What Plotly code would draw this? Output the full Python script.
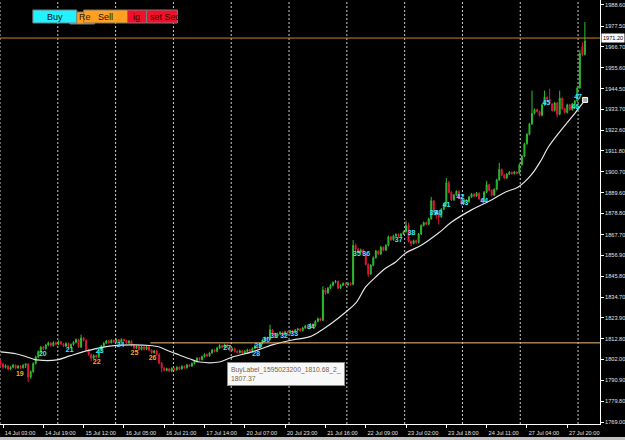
import plotly.graph_objects as go

# ---------------- data (H1 bars, XAUUSD-like) ----------------
opens = [
    1801.0, 1799.5, 1797.8, 1798.6, 1796.9, 1797.8, 1798.9, 1797.5, 1798.4, 1797.6,
    1798.8, 1799.5, 1792.6, 1795.5, 1799.8, 1803.2, 1806.0, 1808.4, 1807.6, 1809.5,
    1810.6, 1809.2, 1810.8, 1809.9, 1811.3, 1810.2, 1809.0, 1810.4, 1808.6, 1809.8,
    1811.0, 1812.4, 1808.5, 1813.2, 1812.0, 1807.0, 1804.5, 1802.6, 1804.0, 1803.2,
    1806.8, 1809.0, 1810.5, 1811.6, 1810.8, 1812.0, 1811.2, 1812.3, 1811.0, 1812.5,
    1811.8, 1810.6, 1811.6, 1809.4, 1808.0, 1808.8, 1807.2, 1808.5, 1807.3, 1808.6,
    1806.8, 1805.5, 1806.4, 1804.6, 1800.0, 1797.4, 1796.2, 1797.0, 1795.8, 1797.2,
    1796.5, 1797.8, 1797.0, 1798.3, 1797.6, 1799.0, 1798.5, 1799.8, 1801.0, 1802.6,
    1801.9, 1803.4, 1804.6, 1803.8, 1805.4, 1806.9, 1806.2, 1808.0, 1809.2, 1808.4,
    1809.6, 1808.0, 1806.8, 1807.6, 1806.2, 1805.6, 1806.5, 1805.3, 1806.2, 1807.0,
    1806.4, 1807.8, 1809.0, 1808.2, 1810.4, 1812.0, 1813.4, 1812.6, 1817.5, 1815.6,
    1814.2, 1815.4, 1816.2, 1815.0, 1816.5, 1815.8, 1817.0, 1816.2, 1817.4, 1818.0,
    1817.2, 1818.5, 1819.6, 1818.8, 1820.5, 1819.6, 1822.0, 1823.4, 1822.6, 1838.5,
    1837.0, 1839.5, 1841.0, 1842.5, 1843.0, 1839.5, 1841.0, 1842.0, 1841.2, 1842.0,
    1841.5, 1862.0, 1860.0, 1858.5, 1859.5, 1857.5, 1852.0, 1847.0, 1851.5, 1855.5,
    1859.0, 1857.5, 1861.0, 1859.5, 1862.0, 1866.5, 1865.0, 1867.0, 1867.8, 1866.8,
    1868.0, 1869.2, 1872.5, 1864.2, 1863.0, 1864.5, 1863.5, 1868.0, 1872.5, 1874.0,
    1873.2, 1876.0, 1885.5, 1880.0, 1878.0, 1877.0, 1881.0, 1884.0, 1895.0, 1890.0,
    1886.0, 1888.5, 1890.5, 1887.0, 1884.5, 1886.0, 1885.0, 1887.5, 1889.0, 1888.0,
    1889.5, 1886.5, 1885.5, 1890.0, 1894.0, 1891.0, 1888.5, 1891.5, 1896.5, 1902.0,
    1899.0, 1897.5, 1899.5, 1900.5, 1899.8, 1900.6, 1900.0, 1904.5, 1909.0, 1915.5,
    1920.5, 1926.0, 1931.5, 1933.5, 1932.5, 1930.5, 1936.0, 1940.0, 1939.0, 1936.5,
    1933.0, 1937.0, 1931.0, 1939.5, 1934.0, 1932.0, 1936.0, 1933.5, 1936.5, 1938.0,
    1945.0, 1966.5, 1962.5,
]
highs = [
    1802.2, 1800.3, 1799.4, 1799.0, 1798.5, 1799.6, 1799.3, 1799.0, 1798.9, 1799.5,
    1800.0, 1800.2, 1796.2, 1800.4, 1803.9, 1806.7, 1809.0, 1809.1, 1810.2, 1811.4,
    1811.0, 1811.6, 1811.3, 1812.0, 1811.8, 1810.7, 1811.0, 1810.9, 1810.4, 1811.6,
    1813.0, 1812.9, 1815.0, 1813.8, 1812.5, 1807.6, 1805.1, 1804.6, 1804.5, 1807.4,
    1809.6, 1811.1, 1812.2, 1812.1, 1812.6, 1812.5, 1812.9, 1812.8, 1813.1, 1813.0,
    1812.3, 1812.2, 1812.1, 1809.9, 1809.4, 1809.3, 1809.1, 1809.0, 1809.2, 1809.1,
    1807.3, 1807.0, 1806.9, 1805.2, 1800.6, 1798.0, 1797.6, 1797.5, 1797.8, 1797.7,
    1798.4, 1798.3, 1798.9, 1798.8, 1799.6, 1799.5, 1800.4, 1801.6, 1803.2, 1803.1,
    1804.0, 1805.2, 1805.1, 1806.0, 1807.5, 1807.4, 1808.6, 1810.0, 1809.7, 1810.2,
    1810.1, 1808.5, 1808.2, 1808.1, 1806.8, 1807.1, 1807.0, 1806.8, 1807.6, 1807.5,
    1808.4, 1809.6, 1809.5, 1811.0, 1812.6, 1814.0, 1813.9, 1820.2, 1818.0, 1816.1,
    1816.0, 1816.8, 1816.7, 1817.1, 1817.0, 1817.6, 1817.5, 1818.0, 1818.6, 1818.5,
    1819.1, 1820.2, 1820.1, 1821.1, 1821.0, 1822.6, 1824.0, 1823.9, 1840.5, 1839.6,
    1840.1, 1841.6, 1843.1, 1843.8, 1843.6, 1841.6, 1842.6, 1842.5, 1842.6, 1842.5,
    1864.8, 1863.0, 1860.6, 1860.3, 1860.0, 1858.1, 1852.6, 1852.1, 1856.2, 1859.7,
    1859.5, 1861.7, 1861.5, 1862.6, 1867.2, 1867.0, 1867.6, 1868.4, 1868.3, 1868.6,
    1869.8, 1875.0, 1874.0, 1864.7, 1865.1, 1865.0, 1868.6, 1873.1, 1874.6, 1874.5,
    1876.6, 1887.5, 1886.0, 1880.5, 1878.5, 1881.6, 1884.6, 1897.5, 1896.0, 1890.5,
    1889.1, 1891.1, 1891.0, 1887.5, 1886.6, 1886.5, 1888.1, 1889.6, 1889.5, 1890.1,
    1890.0, 1887.0, 1890.6, 1896.0, 1894.5, 1891.5, 1892.1, 1897.1, 1905.5, 1902.5,
    1899.5, 1900.1, 1901.1, 1901.0, 1901.2, 1901.1, 1905.1, 1909.6, 1916.1, 1921.1,
    1926.6, 1943.5, 1934.1, 1934.0, 1933.0, 1936.6, 1943.5, 1940.5, 1944.5, 1937.0,
    1937.6, 1937.5, 1943.5, 1940.0, 1934.5, 1936.6, 1936.5, 1937.1, 1938.6, 1946.0,
    1965.0, 1969.0, 1979.6,
]
lows = [
    1798.6, 1797.0, 1797.2, 1796.2, 1796.3, 1797.3, 1796.8, 1797.0, 1796.9, 1797.1,
    1797.4, 1790.0, 1791.8, 1794.9, 1799.2, 1802.6, 1805.4, 1806.9, 1807.0, 1808.9,
    1808.6, 1808.7, 1809.3, 1809.4, 1809.6, 1808.4, 1808.5, 1807.9, 1808.0, 1809.2,
    1810.4, 1808.0, 1808.0, 1811.4, 1806.4, 1803.9, 1801.0, 1802.0, 1802.5, 1802.7,
    1806.2, 1808.4, 1810.0, 1810.2, 1810.3, 1810.6, 1810.7, 1810.4, 1810.5, 1811.2,
    1810.0, 1810.1, 1808.8, 1807.4, 1807.5, 1806.6, 1806.7, 1806.7, 1806.8, 1806.2,
    1804.9, 1805.0, 1804.0, 1799.4, 1795.2, 1795.6, 1795.7, 1795.2, 1795.3, 1795.9,
    1796.0, 1796.4, 1796.5, 1797.0, 1797.1, 1797.9, 1798.0, 1799.3, 1800.5, 1801.3,
    1801.4, 1802.9, 1803.2, 1803.3, 1804.9, 1805.6, 1805.7, 1807.5, 1807.8, 1807.9,
    1807.4, 1806.2, 1806.3, 1805.6, 1805.0, 1805.1, 1804.7, 1804.8, 1805.7, 1805.8,
    1805.9, 1807.3, 1807.6, 1807.7, 1809.9, 1811.5, 1812.0, 1812.1, 1815.0, 1813.6,
    1813.7, 1814.9, 1814.4, 1814.5, 1815.2, 1815.3, 1815.6, 1815.7, 1816.9, 1816.6,
    1816.7, 1818.0, 1818.2, 1818.3, 1819.0, 1819.1, 1821.5, 1822.0, 1822.1, 1836.0,
    1836.5, 1839.0, 1840.5, 1842.0, 1838.9, 1839.0, 1840.5, 1840.6, 1840.7, 1840.9,
    1841.0, 1859.0, 1857.9, 1858.0, 1856.9, 1851.4, 1845.4, 1846.5, 1851.0, 1855.0,
    1856.9, 1857.0, 1858.9, 1859.0, 1861.5, 1864.4, 1864.5, 1866.3, 1866.2, 1866.3,
    1867.5, 1868.7, 1863.6, 1861.5, 1862.5, 1862.9, 1863.0, 1867.5, 1872.0, 1872.6,
    1872.7, 1875.5, 1879.4, 1876.0, 1873.0, 1876.5, 1880.5, 1883.5, 1889.4, 1885.4,
    1885.5, 1888.0, 1886.4, 1883.0, 1884.0, 1884.4, 1884.5, 1887.0, 1887.4, 1887.5,
    1886.0, 1884.9, 1885.0, 1889.5, 1890.4, 1887.9, 1888.0, 1891.0, 1896.0, 1898.4,
    1896.9, 1897.0, 1899.0, 1899.3, 1899.3, 1899.5, 1899.5, 1904.0, 1908.5, 1915.0,
    1920.0, 1925.5, 1931.0, 1932.0, 1929.9, 1930.0, 1935.5, 1938.4, 1936.0, 1932.4,
    1932.5, 1929.5, 1930.5, 1933.4, 1931.4, 1931.5, 1932.9, 1933.0, 1936.0, 1937.5,
    1944.5, 1961.5, 1962.0,
]
closes = [
    1799.5, 1797.8, 1798.6, 1796.9, 1797.8, 1798.9, 1797.5, 1798.4, 1797.6, 1798.8,
    1799.5, 1792.6, 1795.5, 1799.8, 1803.2, 1806.0, 1808.4, 1807.6, 1809.5, 1810.6,
    1809.2, 1810.8, 1809.9, 1811.3, 1810.2, 1809.0, 1810.4, 1808.6, 1809.8, 1811.0,
    1812.4, 1808.5, 1813.2, 1812.0, 1807.0, 1804.5, 1802.6, 1804.0, 1803.2, 1806.8,
    1809.0, 1810.5, 1811.6, 1810.8, 1812.0, 1811.2, 1812.3, 1811.0, 1812.5, 1811.8,
    1810.6, 1811.6, 1809.4, 1808.0, 1808.8, 1807.2, 1808.5, 1807.3, 1808.6, 1806.8,
    1805.5, 1806.4, 1804.6, 1800.0, 1797.4, 1796.2, 1797.0, 1795.8, 1797.2, 1796.5,
    1797.8, 1797.0, 1798.3, 1797.6, 1799.0, 1798.5, 1799.8, 1801.0, 1802.6, 1801.9,
    1803.4, 1804.6, 1803.8, 1805.4, 1806.9, 1806.2, 1808.0, 1809.2, 1808.4, 1809.6,
    1808.0, 1806.8, 1807.6, 1806.2, 1805.6, 1806.5, 1805.3, 1806.2, 1807.0, 1806.4,
    1807.8, 1809.0, 1808.2, 1810.4, 1812.0, 1813.4, 1812.6, 1817.5, 1815.6, 1814.2,
    1815.4, 1816.2, 1815.0, 1816.5, 1815.8, 1817.0, 1816.2, 1817.4, 1818.0, 1817.2,
    1818.5, 1819.6, 1818.8, 1820.5, 1819.6, 1822.0, 1823.4, 1822.6, 1838.5, 1837.0,
    1839.5, 1841.0, 1842.5, 1843.0, 1839.5, 1841.0, 1842.0, 1841.2, 1842.0, 1841.5,
    1862.0, 1860.0, 1858.5, 1859.5, 1857.5, 1852.0, 1847.0, 1851.5, 1855.5, 1859.0,
    1857.5, 1861.0, 1859.5, 1862.0, 1866.5, 1865.0, 1867.0, 1867.8, 1866.8, 1868.0,
    1869.2, 1872.5, 1864.2, 1863.0, 1864.5, 1863.5, 1868.0, 1872.5, 1874.0, 1873.2,
    1876.0, 1885.5, 1880.0, 1878.0, 1877.0, 1881.0, 1884.0, 1895.0, 1890.0, 1886.0,
    1888.5, 1890.5, 1887.0, 1884.5, 1886.0, 1885.0, 1887.5, 1889.0, 1888.0, 1889.5,
    1886.5, 1885.5, 1890.0, 1894.0, 1891.0, 1888.5, 1891.5, 1896.5, 1902.0, 1899.0,
    1897.5, 1899.5, 1900.5, 1899.8, 1900.6, 1900.0, 1904.5, 1909.0, 1915.5, 1920.5,
    1926.0, 1931.5, 1933.5, 1932.5, 1930.5, 1936.0, 1940.0, 1939.0, 1936.5, 1933.0,
    1937.0, 1931.0, 1939.5, 1934.0, 1932.0, 1936.0, 1933.5, 1936.5, 1938.0, 1945.0,
    1963.0, 1962.5, 1969.5,
]

# moving average (bar index, price)
ma_bars = [0, 6.5, 12.9, 14.5, 22.4, 27.5, 32.7, 39.4, 43.3, 52.4, 59.2, 63.1, 65.9,
           71.0, 76.2, 79.0, 86.9, 92.0, 99.9, 107.9, 115.8, 122.5, 127.6, 131.6,
           137.1, 141.1, 145.0, 149.0, 153.0, 156.9, 160.9, 167.2, 173.9, 179.1,
           187.0, 194.9, 200.5, 205.6, 210.7, 214.7, 217.5, 224.2, 228.1, 232.1]
ma_values = [1805.9, 1804.8, 1802.2, 1801.7, 1801.7, 1803.8, 1805.9, 1808.0, 1809.0,
             1809.6, 1809.3, 1808.5, 1806.9, 1804.3, 1801.7, 1800.6, 1800.6, 1803.2,
             1805.9, 1809.6, 1812.2, 1813.8, 1817.5, 1821.1, 1826.9, 1831.7, 1840.1,
             1845.4, 1850.1, 1853.3, 1858.0, 1862.2, 1868.5, 1874.3, 1880.7, 1885.9,
             1890.1, 1892.8, 1899.1, 1907.0, 1913.8, 1925.4, 1931.7, 1938.6]

# sequence labels
label_text = ['19', '20', '21', '22', '23', '24', '25', '26', '27', '28', '29', '30',
              '31', '32', '33', '34', '35', '36', '37', '38', '39', '40', '41', '42',
              '43', '44', '45', '46', '47']
label_bar = [7.7, 16.8, 27.5, 38.2, 39.4, 47.7, 53.2, 60.4, 90.0, 101.5, 102.3, 105.5,
             108.6, 112.6, 116.6, 123.3, 141.5, 145.2, 158.1, 163.2, 171.9, 173.9,
             177.1, 182.6, 184.2, 192.1, 216.7, 228.2, 229.3]
label_price = [1794.3, 1804.8, 1806.9, 1800.6, 1806.4, 1809.6, 1805.3, 1802.7, 1808.0,
               1804.5, 1808.8, 1812.2, 1814.3, 1814.3, 1815.4, 1819.0, 1857.5, 1857.5,
               1864.9, 1868.5, 1879.1, 1879.1, 1883.3, 1887.2, 1884.1, 1885.4, 1937.0,
               1934.9, 1940.2]
label_side = ['sell', 'buy', 'buy', 'sell', 'buy', 'buy', 'sell', 'sell', 'buy', 'buy',
              'buy', 'buy', 'buy', 'buy', 'buy', 'buy', 'buy', 'buy', 'buy', 'buy',
              'buy', 'buy', 'buy', 'buy', 'buy', 'buy', 'buy', 'buy', 'buy']

# horizontal price lines
hline_prices = [1971.20, 1810.68]
hline_start_bar = [None, 59.5]
hline_colors = ['#c8832a', '#f5be6e']

# axes
xtick_bars = [1, 17, 33, 49, 65, 81, 97, 113, 129, 145, 161, 177, 193, 209, 225]
xtick_labels = ['14 Jul 03:00', '14 Jul 19:00', '15 Jul 12:00', '16 Jul 05:00',
                '16 Jul 21:00', '17 Jul 14:00', '20 Jul 07:00', '20 Jul 23:00',
                '21 Jul 16:00', '22 Jul 09:00', '23 Jul 02:00', '23 Jul 18:00',
                '24 Jul 11:00', '27 Jul 04:00', '27 Jul 20:00']
ytick_vals = [1769.00, 1779.80, 1790.90, 1802.00, 1812.80, 1823.90, 1834.70, 1845.80,
              1856.90, 1867.70, 1878.80, 1889.60, 1900.70, 1911.80, 1922.60, 1933.70,
              1944.50, 1955.60, 1966.70, 1977.50, 1988.60]
ytick_text = ['%.2f' % v for v in ytick_vals]

tooltip_text = 'BuyLabel_1595023200_1810.68_2_<br>1807.37'

# ---------------- figure ----------------
W, H = 625, 440
ML, MR, MT, MB = 0, 23, 0, 16
PW, PH = W - ML - MR, H - MT - MB
XR = [-0.19, 238.0]
YR = [1767.95, 1991.23]


def px(x):
    return x / PW


def py(y):
    return 1 - y / PH


bars = list(range(len(closes)))
fig = go.Figure()
fig.add_trace(go.Candlestick(
    x=bars, open=opens, high=highs, low=lows, close=closes,
    increasing=dict(line=dict(color='#2fbf2f', width=1), fillcolor='#1a8a1a'),
    decreasing=dict(line=dict(color='#e0183c', width=1), fillcolor='#d01038'),
    whiskerwidth=0, showlegend=False, hoverinfo='skip'))

fig.add_trace(go.Scatter(x=ma_bars, y=ma_values, mode='lines',
                         line=dict(color='#e4e4e4', width=1.2, shape='spline'),
                         showlegend=False, hoverinfo='skip'))
fig.add_trace(go.Scatter(x=[ma_bars[-1]], y=[ma_values[-1]], mode='markers',
                         marker=dict(symbol='square', size=5, color='#a8a8a8',
                                     line=dict(color='#ffffff', width=1)),
                         showlegend=False, hoverinfo='skip'))

side_colors = {'buy': '#30ecff', 'sell': '#f4a82a'}
for side in ['buy', 'sell']:
    idx = [k for k, s in enumerate(label_side) if s == side]
    fig.add_trace(go.Scatter(
        x=[label_bar[k] for k in idx], y=[label_price[k] for k in idx],
        text=[label_text[k] for k in idx], mode='text',
        textfont=dict(family='Liberation Sans', size=7, color=side_colors[side],
                      weight='bold'),
        showlegend=False, hoverinfo='skip'))

shapes = []
# vertical dotted grid
for k in range(11):
    xx = px(58 * k)
    shapes.append(dict(type='line', xref='paper', yref='paper', x0=xx, x1=xx, y0=0, y1=1,
                       line=dict(color='#c8c8c8', width=1, dash='2px,2px'), layer='below'))
# horizontal price lines
for p, s, c in zip(hline_prices, hline_start_bar, hline_colors):
    shapes.append(dict(type='line', xref='x', yref='y',
                       x0=XR[0] if s is None else s, x1=XR[1], y0=p, y1=p,
                       line=dict(color=c, width=1), layer='above'))

# buttons (pixel boxes)
buttons = [
    (70, 95, 12, 24, '#ffa01e'),
    (33, 77, 10, 23, '#22f2ff'),
    (84, 128, 10, 23, '#ffa020'),
    (128, 147, 10, 23, '#f0102a'),
    (147, 178, 10, 23, '#f0102a'),
]
for x0, x1, y0, y1, c in buttons:
    shapes.append(dict(type='rect', xref='paper', yref='paper', x0=px(x0), x1=px(x1),
                       y0=py(y1), y1=py(y0), fillcolor=c,
                       line=dict(color='#7a7a7a', width=1), layer='above'))
# bottom window border
shapes.append(dict(type='rect', xref='paper', yref='paper', x0=-0.01, x1=1.1,
                   y0=py(PH + 16), y1=py(PH + 13), fillcolor='#c0c0c0',
                   line=dict(width=0), layer='above'))

annotations = []
for txt, x, anchor, col in [('Buy', 55, 'center', '#101010'), ('Re', 77, 'left', '#3a2000'),
                            ('Sell', 106, 'center', '#101010'), ('ig', 131, 'left', '#2a0000'),
                            ('set Seq', 148, 'left', '#2a0000')]:
    annotations.append(dict(xref='paper', yref='paper', x=px(x), y=py(17), text=txt,
                            showarrow=False, xanchor=anchor, yanchor='middle',
                            font=dict(family='Liberation Sans', size=9, color=col)))
# price tag of the upper line
annotations.append(dict(xref='paper', yref='y', x=1, y=hline_prices[0], xanchor='left',
                        xshift=1, text='%.2f' % hline_prices[0], showarrow=False,
                        bgcolor='#ffffff', borderpad=1,
                        font=dict(family='Liberation Sans', size=5.6, color='#000000')))
# tooltip
annotations.append(dict(xref='paper', yref='paper', x=px(228), y=py(362), xanchor='left',
                        yanchor='top', align='left', text=tooltip_text, showarrow=False,
                        bgcolor='#f8f8f8', bordercolor='#8a8a8a', borderwidth=1, borderpad=3,
                        font=dict(family='Liberation Sans', size=6.8, color='#7a6248')))

axis_font = dict(family='Liberation Sans', size=5.6, color='#e0e0e0')
fig.update_layout(
    width=W, height=H, margin=dict(l=ML, r=MR, t=MT, b=MB, pad=0),
    paper_bgcolor='#000000', plot_bgcolor='#000000',
    showlegend=False, shapes=shapes, annotations=annotations,
    boxgap=0.45,
    xaxis=dict(range=XR, rangeslider=dict(visible=False), tickmode='array',
               tickvals=xtick_bars, ticktext=xtick_labels, ticks='outside', ticklen=3,
               tickcolor='#ffffff', showline=True, linecolor='#ffffff', linewidth=1,
               showgrid=False, zeroline=False, tickfont=axis_font, ticklabelshift=17,
               fixedrange=True),
    yaxis=dict(range=YR, side='right', tickmode='array', tickvals=ytick_vals,
               ticktext=ytick_text, ticks='outside', ticklen=3, tickcolor='#ffffff',
               showline=True, linecolor='#ffffff', linewidth=1, showgrid=False,
               zeroline=False, tickfont=axis_font, fixedrange=True),
)

fig.write_html('out.html')
